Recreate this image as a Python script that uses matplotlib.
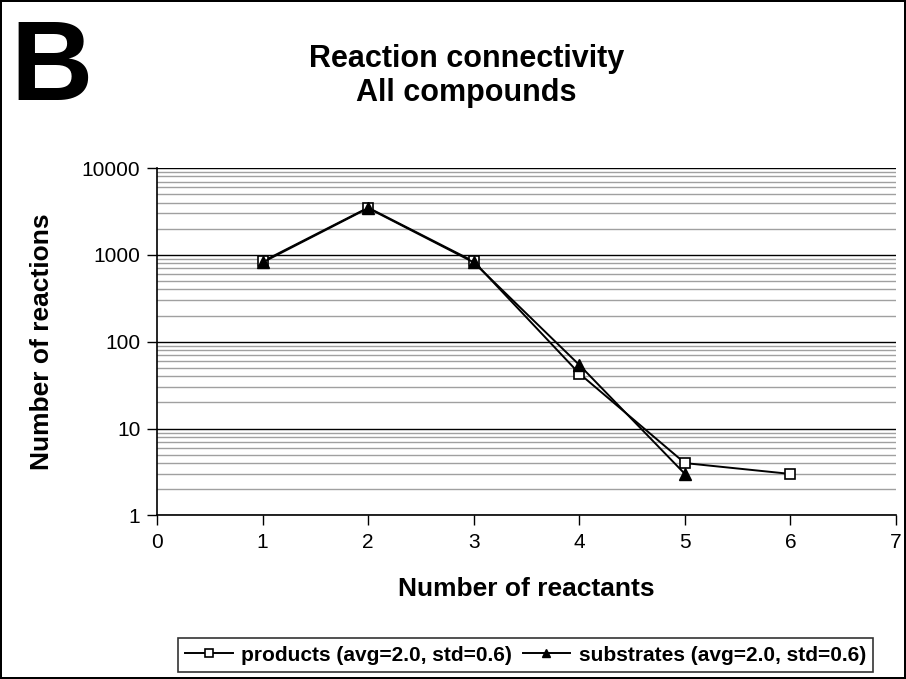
import numpy as np
import matplotlib.pyplot as plt
from matplotlib.ticker import LogLocator, FixedLocator, NullFormatter

# Data
reactants = [1, 2, 3, 4, 5, 6]
products = [840, 3500, 840, 43, 4, 3]
substrate_x = [1, 2, 3, 4, 5]
substrates = [820, 3450, 820, 54, 3]

x_ticks = [0, 1, 2, 3, 4, 5, 6, 7]
y_ticks = [1, 10, 100, 1000, 10000]
y_tick_labels = ['1', '10', '100', '1000', '10000']

plt.rcParams['font.family'] = ['Liberation Sans', 'DejaVu Sans']

fig = plt.figure(figsize=(9.06, 6.79), dpi=100)
fig.patch.set_edgecolor('black')
fig.patch.set_linewidth(1.5)

ax = fig.add_axes([0.1733, 0.241, 0.8157, 0.5115])
ax.set_yscale('log')
ax.set_xlim(0, 7)
ax.set_ylim(1, 10000)

# gridlines like Excel: black majors, grey minors
ax.yaxis.set_minor_locator(LogLocator(base=10, subs=np.arange(2, 10)))
ax.yaxis.set_minor_formatter(NullFormatter())
ax.grid(True, which='major', axis='y', color='black', linewidth=1)
ax.grid(True, which='minor', axis='y', color='#a0a0a0', linewidth=1)
ax.set_axisbelow(True)

ax.plot(reactants, products, color='black', linewidth=1.4, marker='s',
        markersize=7, markerfacecolor='white', markeredgecolor='black',
        markeredgewidth=1.2, label='products (avg=2.0, std=0.6)')
ax.plot(substrate_x, substrates, color='black', linewidth=1.4, marker='^',
        markersize=8, markerfacecolor='black', markeredgecolor='black',
        label='substrates (avg=2.0, std=0.6)')

ax.xaxis.set_major_locator(FixedLocator(x_ticks))
ax.set_xticklabels([str(t) for t in x_ticks], fontsize=15)
ax.yaxis.set_major_locator(FixedLocator(y_ticks))
ax.set_yticklabels(y_tick_labels, fontsize=15)
ax.tick_params(which='major', direction='out', length=7, width=1, pad=6)
ax.tick_params(axis='y', pad=5)
ax.tick_params(which='minor', length=0)

for side in ['top', 'right']:
    ax.spines[side].set_visible(False)
ax.spines['left'].set_linewidth(1.2)
ax.spines['bottom'].set_linewidth(1.2)

ax.set_xlabel('Number of reactants', fontsize=19, fontweight='bold', labelpad=18)
ax.set_ylabel('Number of reactions', fontsize=19, fontweight='bold', labelpad=20)

fig.text(0.515, 0.888, 'Reaction connectivity\nAll compounds', ha='center',
         va='center', fontsize=22, fontweight='bold', linespacing=1.2)
fig.text(0.011, 0.853, 'B', ha='left', va='baseline', fontsize=82, fontweight='bold')

leg = fig.legend(loc='center', bbox_to_anchor=(0.58, 0.035), ncol=2,
                 frameon=True, fancybox=False, edgecolor='black',
                 prop={'weight': 'bold', 'size': 15}, handlelength=2.3,
                 handletextpad=0.4, columnspacing=0.5, borderpad=0.35,
                 markerscale=0.8)
leg.get_frame().set_linewidth(1.2)

fig.savefig('out.png', dpi=100, edgecolor=fig.get_edgecolor())
